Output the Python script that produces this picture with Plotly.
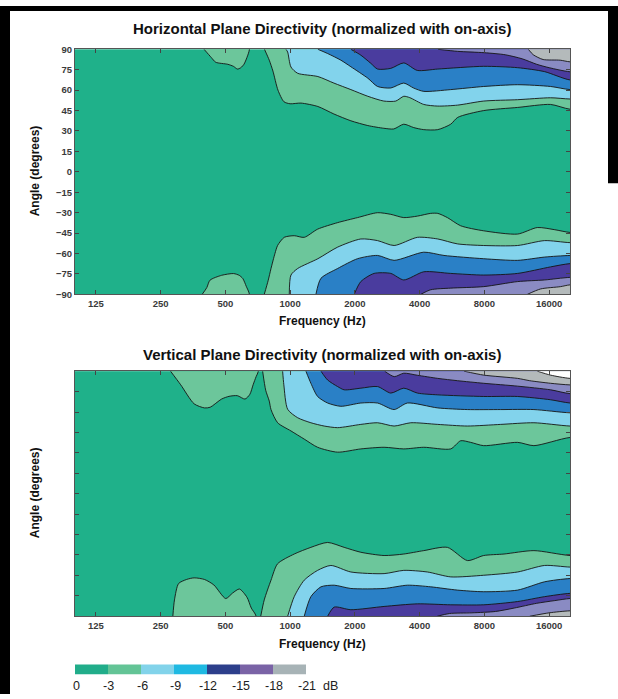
import math
import plotly.graph_objects as go

W, H = 618, 699

# ---------------- styling lists ----------------
BAND_COLORS = ['#1fb18a', '#6cc69b', '#82d3ec', '#2a80c6', '#4a3c9e', '#8a8bc3', '#b4babb', '#ffffff']
LEGEND_COLORS = ['#21ad8a', '#63c496', '#82d3ea', '#1fb9e2', '#2d3f8b', '#7a63a6', '#a7b3b6']
LEVEL_LABELS = ['0', '-3', '-6', '-9', '-12', '-15', '-18', '-21']

FREQ_TICKS = [125, 250, 500, 1000, 2000, 4000, 8000, 16000]
ANGLE_TICKS = [90, 75, 60, 45, 30, 15, 0, -15, -30, -45, -60, -75, -90]
FREQ_MIN, FREQ_MAX = 100, 20000

# ---------------- data: contour lines (frequency Hz, angle deg) ----------------
# Horizontal plane, positive angles
h_up_bump3 = [(398, 90), (430, 84), (451, 80.5), (513, 79), (545, 77.5), (569, 75.5),
              (590, 76.5), (610, 79), (630, 84), (647, 90)]
h_up_3 = [(760, 90), (800, 82), (832, 74), (878, 60), (936, 51.5), (1000, 50), (1123, 50.5),
          (1346, 48), (1597, 42.5), (1916, 37.5), (2297, 34), (2726, 32), (3033, 31.5),
          (3376, 35), (3757, 32.5), (4181, 31), (4856, 31), (5579, 35), (6013, 40),
          (7939, 45), (11415, 47.3), (16245, 49.5), (20000, 46)]
h_up_6 = [(957, 90), (974, 88), (1009, 77), (1084, 72.4), (1346, 70), (1597, 65.2),
          (1916, 60.4), (2297, 55.5), (2726, 52), (3100, 52), (3376, 55.5), (3600, 54.5),
          (4181, 49.5), (4856, 48.3), (6000, 49), (7939, 52), (11415, 53), (16245, 54.4),
          (20000, 53.5)]
h_up_9 = [(1346, 90), (1494, 86.9), (1722, 82), (1916, 77.2), (2297, 68.8), (2549, 62.7),
          (2938, 61.6), (3376, 65.2), (3757, 61.5), (4181, 59.1), (5579, 60.4), (7939, 62.7),
          (11415, 64), (16245, 62.7), (20000, 60.4)]
h_up_12 = [(1916, 90), (2131, 85.7), (2372, 79.7), (2549, 75.5), (2938, 76), (3376, 80),
           (3899, 74.5), (4856, 75.5), (7939, 77.5), (11415, 76.5), (15240, 73.6), (20000, 67.5)]
h_up_15 = [(4874, 90), (6000, 88.5), (8000, 87.5), (10000, 86), (12000, 83), (14000, 79),
           (16000, 76.5), (20000, 73.5)]
h_up_18 = [(12800, 90), (13500, 86), (15000, 82.5), (18000, 82), (20000, 80.8)]

# Horizontal plane, negative angles
h_dn_bump3 = [(390, -90), (410, -85), (424, -79.6), (480, -76), (546, -74.7), (580, -76),
              (603, -78.4), (625, -84), (647, -90)]
h_dn_3 = [(758, -90), (790, -80), (815, -71), (850, -60), (875, -54), (939, -48.1),
          (1045, -46.9), (1163, -48.1), (1342, -42.1), (1662, -37.3), (2057, -33.6),
          (2549, -30), (2938, -31.2), (3376, -33.6), (3907, -32.5), (4500, -30.5),
          (4856, -30.5), (5384, -33.6), (6206, -39.6), (7939, -43.3), (11415, -45.7),
          (14090, -40.9), (17000, -42.5), (20000, -44.5)]
h_dn_6 = [(991, -90), (1009, -75.8), (1084, -71), (1346, -63.8), (1662, -55.3), (2131, -49.3),
          (2549, -50.5), (3044, -54.1), (3907, -48.1), (4856, -49.3), (5993, -52.9),
          (7939, -54.1), (11415, -54.1), (15240, -50.5), (20000, -52)]
h_dn_9 = [(1318, -90), (1391, -78.2), (1662, -71), (2057, -63.8), (2549, -61.4), (3044, -65),
          (4181, -59), (5192, -61.4), (7939, -63.8), (11415, -65), (15240, -62.6), (20000, -61.4)]
h_dn_12 = [(1985, -90), (2131, -80.6), (2457, -74.6), (2938, -74.6), (3376, -79.4),
           (4181, -73.4), (5579, -74.6), (7939, -75.8), (11415, -74.6), (16245, -69.8),
           (20000, -67.4)]
h_dn_15 = [(4047, -90), (4504, -86.6), (5579, -85.4), (7939, -84.3), (11415, -80.6),
           (15240, -79.4), (20000, -77.5)]
h_dn_18 = [(12660, -90), (14600, -86), (18080, -84.3), (20000, -83)]

# Vertical plane, positive angles
v_up_bump3 = [(278, 90), (310, 80), (358, 66), (400, 63), (425, 63.5), (480, 69.5),
              (520, 71.5), (568, 72), (617, 69.5), (650, 73), (673, 80), (695, 86), (712, 90)]
v_up_3 = [(745, 90), (770, 76), (800, 68), (815, 61.8), (875, 52.1), (1009, 46.1),
          (1163, 40.1), (1342, 34.1), (1662, 30.5), (2131, 32.9), (2734, 34.1), (3376, 32.9),
          (4181, 34.1), (5579, 32.9), (6206, 38.9), (6907, 37.7), (7939, 35.3), (11415, 37.7),
          (13590, 35.3), (20000, 41.3)]
v_up_6 = [(923, 90), (935, 80), (974, 62), (1084, 55.8), (1249, 52.1), (1440, 49.7),
          (1662, 48.5), (2131, 50.9), (2549, 52.1), (3044, 49.7), (3638, 52.1), (4856, 50.9),
          (6668, 49.7), (9523, 50.9), (13590, 52.1), (20000, 49.7)]
v_up_9 = [(1184, 90), (1249, 81.1), (1342, 71.4), (1494, 66.6), (1722, 64.2), (2131, 66.6),
          (2549, 66.6), (3044, 61.8), (3511, 66.6), (4856, 63), (6668, 61.8), (9523, 61.8),
          (13590, 61.8), (20000, 59.4)]
v_up_12 = [(1391, 90), (1494, 83.5), (1662, 78.7), (1783, 76.3), (2131, 77.5), (2549, 78.7),
           (2938, 73.9), (3376, 77.5), (3907, 73.9), (4856, 72.6), (7939, 71.4), (11415, 71.4),
           (16245, 69), (20000, 66.6)]
v_up_15 = [(2750, 90), (3050, 86), (3376, 88.5), (3900, 87), (4856, 84.7), (6000, 83),
           (7939, 81.1), (11415, 79), (16245, 76.3), (20000, 73.5)]
v_up_18 = [(6431, 90), (7939, 87.1), (11415, 84.7), (13000, 83), (16245, 81.1), (20000, 79.9)]
v_up_21 = [(14090, 90), (16245, 87.1), (20000, 84.7)]

# Vertical plane, negative angles
v_dn_bump3 = [(285, -90), (290, -78), (303, -66), (330, -63), (358, -61.8), (400, -63),
              (442, -67), (502, -77), (540, -73), (581, -70), (630, -76), (660, -84), (695, -90)]
v_dn_3 = [(730, -90), (758, -78), (815, -63.5), (874, -51.5), (1045, -44.3), (1249, -39.4),
          (1494, -35.8), (1783, -39.4), (2131, -43), (2734, -45.4), (3376, -44.3),
          (4181, -41.8), (5384, -39.4), (6668, -49.1), (7939, -45.4), (9865, -44.3),
          (13590, -41.8), (20000, -45.4)]
v_dn_6 = [(974, -90), (1045, -75.6), (1163, -63.5), (1342, -56.3), (1547, -52.7), (1916, -57.5),
          (2734, -58.7), (3376, -56.3), (4347, -57.5), (5579, -61.1), (7939, -59.9),
          (11415, -57.5), (15240, -52.7), (20000, -53.9)]
v_dn_9 = [(1163, -90), (1249, -75.6), (1391, -68.4), (1603, -67.2), (1916, -69.6),
          (2734, -69.6), (3511, -67.2), (4506, -68.4), (5993, -70.8), (7939, -72),
          (11415, -70.8), (15240, -64.7), (20000, -62.3)]
v_dn_12 = [(1494, -90), (1603, -83.3), (1916, -85.2), (2734, -82.8), (3907, -80.9),
           (5579, -81.6), (7939, -81.6), (11415, -79.2), (15240, -75.6), (20000, -73.2)]
v_dn_15 = [(4830, -90), (5500, -88), (7000, -87.5), (9000, -86.5), (11000, -84), (14000, -80.5),
           (17000, -78.5), (20000, -77)]
v_dn_18 = [(13000, -90), (16000, -87.5), (20000, -86)]

# (contour, band index to fill beyond it, side)
HORIZONTAL = [(h_up_bump3, 1, 1), (h_up_3, 1, 1), (h_up_6, 2, 1), (h_up_9, 3, 1),
              (h_up_12, 4, 1), (h_up_15, 5, 1), (h_up_18, 6, 1),
              (h_dn_bump3, 1, -1), (h_dn_3, 1, -1), (h_dn_6, 2, -1), (h_dn_9, 3, -1),
              (h_dn_12, 4, -1), (h_dn_15, 5, -1), (h_dn_18, 6, -1)]
VERTICAL = [(v_up_bump3, 1, 1), (v_up_3, 1, 1), (v_up_6, 2, 1), (v_up_9, 3, 1),
            (v_up_12, 4, 1), (v_up_15, 5, 1), (v_up_18, 6, 1), (v_up_21, 7, 1),
            (v_dn_bump3, 1, -1), (v_dn_3, 1, -1), (v_dn_6, 2, -1), (v_dn_9, 3, -1),
            (v_dn_12, 4, -1), (v_dn_15, 5, -1), (v_dn_18, 6, -1)]


def region_trace(pts, band, side, xa, ya):
    fs = [p[0] for p in pts]
    an = [p[1] for p in pts]
    edge = 140 * side
    if fs[-1] >= FREQ_MAX * 0.95:
        fs += [FREQ_MAX * 1.6, FREQ_MAX * 1.6]
        an += [an[-1], edge]
    else:
        fs.append(fs[-1])
        an.append(edge)
    fs.append(fs[0])
    an.append(edge)
    return go.Scatter(x=fs, y=an, xaxis=xa, yaxis=ya, mode='lines', fill='toself',
                      fillcolor=BAND_COLORS[band],
                      line=dict(color='#151515', width=0.9, shape='spline', smoothing=0.7),
                      hoverinfo='skip', showlegend=False)


fig = go.Figure()
for pts, band, side in HORIZONTAL:
    fig.add_trace(region_trace(pts, band, side, 'x', 'y'))
for pts, band, side in VERTICAL:
    fig.add_trace(region_trace(pts, band, side, 'x2', 'y2'))

PX = lambda px: px / W
PY = lambda py: 1 - py / H

x_dom = [PX(75), PX(570)]
tickfont = dict(family='Liberation Sans', size=9.5, color='#3a3a3a', weight='bold')
xaxis_common = dict(type='log', range=[math.log10(FREQ_MIN), math.log10(FREQ_MAX)],
                    tickvals=FREQ_TICKS, ticktext=[str(t) for t in FREQ_TICKS],
                    ticks='inside', ticklen=4, tickcolor='#444', mirror='ticks',
                    showline=True, linecolor='#555', linewidth=1, showgrid=False,
                    zeroline=False, tickfont=tickfont, domain=x_dom, fixedrange=True)
yaxis_common = dict(range=[-90, 90], tickvals=ANGLE_TICKS, ticks='inside', ticklen=4,
                    tickcolor='#444', mirror='ticks', showline=True, linecolor='#555',
                    linewidth=1, showgrid=False, zeroline=False, tickfont=tickfont,
                    fixedrange=True)

fig.update_layout(
    width=W, height=H, margin=dict(l=0, r=0, t=0, b=0),
    paper_bgcolor='white', plot_bgcolor=BAND_COLORS[0],
    xaxis=dict(**xaxis_common, anchor='y'),
    yaxis=dict(**yaxis_common, domain=[PY(293), PY(44)], anchor='x'),
    xaxis2=dict(**xaxis_common, anchor='y2'),
    yaxis2=dict(**yaxis_common, domain=[PY(620), PY(371)], anchor='x2', showticklabels=False),
)

ann = []
title_font = dict(family='Liberation Sans', size=15, color='#111', weight='bold')
lab_font = dict(family='Liberation Sans', size=12, color='#111', weight='bold')
for txt, y in [('Horizontal Plane Directivity (normalized with on-axis)', 23),
               ('Vertical Plane Directivity (normalized with on-axis)', 354)]:
    ann.append(dict(text=txt, x=PX(322), y=PY(y), xref='paper', yref='paper',
                    showarrow=False, xanchor='center', yanchor='middle', font=title_font))
for y in [320, 648]:
    ann.append(dict(text='Frequency (Hz)', x=PX(322), y=PY(y), xref='paper', yref='paper',
                    showarrow=False, xanchor='center', yanchor='middle', font=lab_font))
for y in [168, 495]:
    ann.append(dict(text='Angle (degrees)', x=PX(35), y=PY(y), xref='paper', yref='paper',
                    showarrow=False, xanchor='center', yanchor='middle', textangle=-90,
                    font=lab_font))

# colour key
shapes = []
sw_x0, sw_w, sw_y0, sw_y1 = 75, 33, 669, 679
for i, c in enumerate(LEGEND_COLORS):
    shapes.append(dict(type='rect', xref='paper', yref='paper',
                       x0=PX(sw_x0 + i * sw_w), x1=PX(sw_x0 + (i + 1) * sw_w),
                       y0=PY(sw_y1), y1=PY(sw_y0), fillcolor=c, line=dict(width=0)))
for i, t in enumerate(LEVEL_LABELS):
    ann.append(dict(text=t, x=PX(sw_x0 + 1 + i * sw_w), y=PY(691), xref='paper', yref='paper',
                    showarrow=False, xanchor='center', yanchor='middle',
                    font=dict(family='Liberation Sans', size=12.5, color='#222')))
ann.append(dict(text='dB', x=PX(330), y=PY(691), xref='paper', yref='paper', showarrow=False,
                xanchor='center', yanchor='middle',
                font=dict(family='Liberation Sans', size=12.5, color='#222')))

# black scan border
for x0, x1, y0, y1 in [(0, 10, 0, H), (0, W, 0, 5), (608, W, 0, 180)]:
    shapes.append(dict(type='rect', xref='paper', yref='paper', x0=PX(x0), x1=PX(x1),
                       y0=PY(y1), y1=PY(y0), fillcolor='black', line=dict(width=0),
                       layer='above'))

fig.update_layout(annotations=ann, shapes=shapes)

POST = ("document.body.style.margin='0px';document.body.style.overflow='hidden';"
        "var d=document.getElementById('{plot_id}');d.style.position='fixed';"
        "d.style.left='0px';d.style.top='0px';")
fig.write_html('out.html', post_script=POST, config={'displayModeBar': False})
